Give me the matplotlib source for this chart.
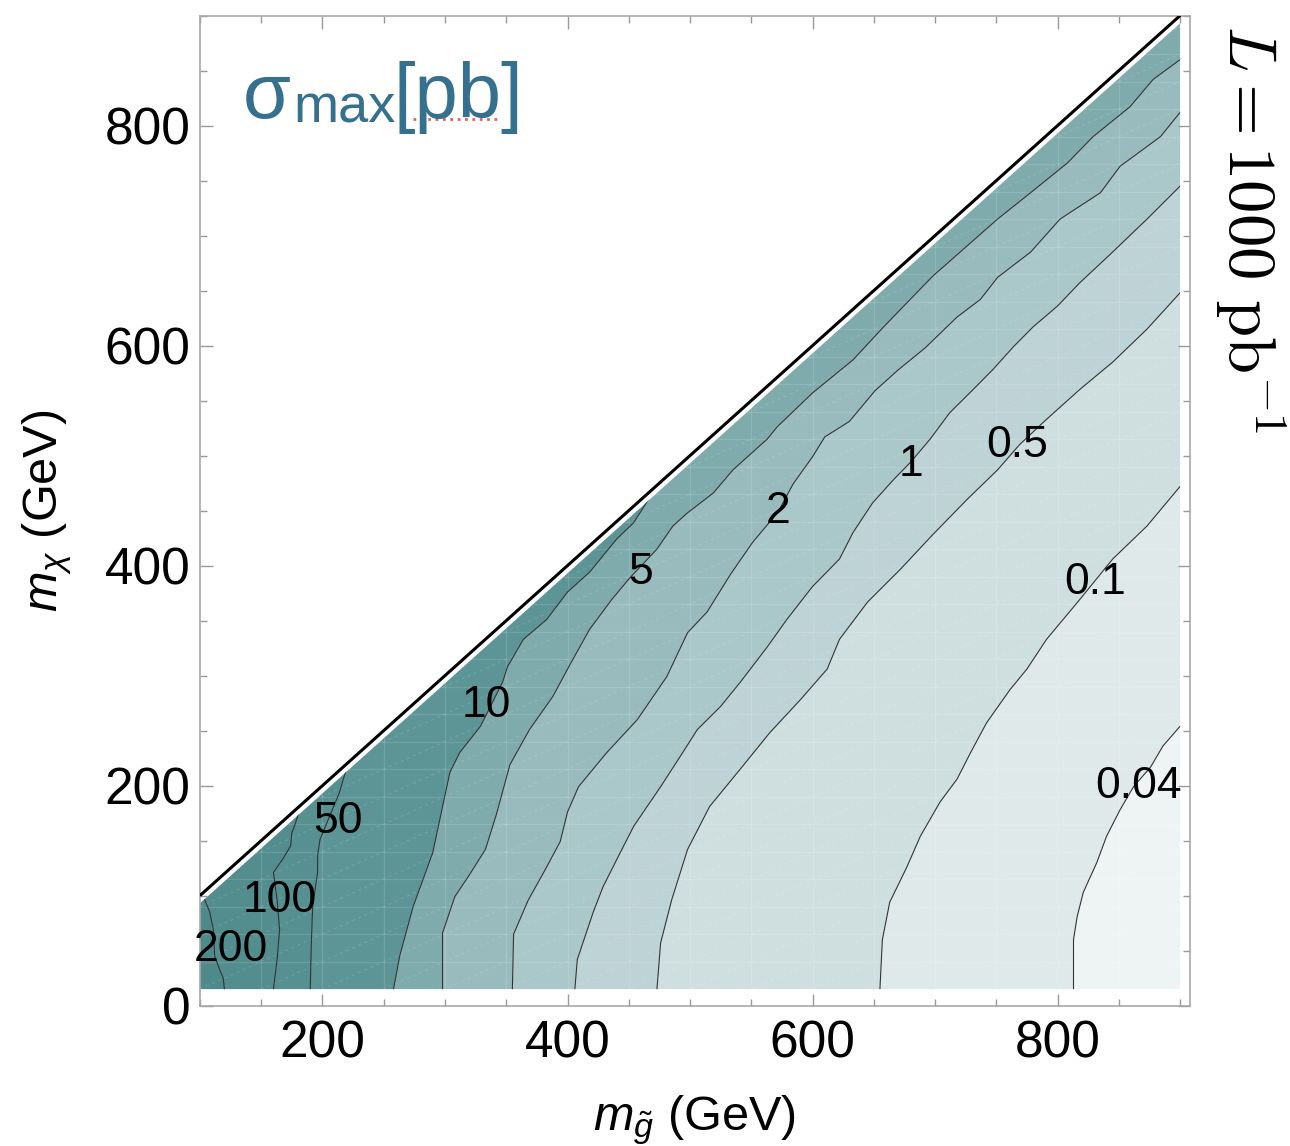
import numpy as np
import matplotlib.pyplot as plt
from matplotlib.patches import Polygon
from matplotlib.lines import Line2D

plt.rcParams['font.family'] = ['Liberation Sans', 'DejaVu Sans']
plt.rcParams['mathtext.fontset'] = 'custom'
plt.rcParams['mathtext.rm'] = 'Liberation Sans'
plt.rcParams['mathtext.it'] = 'Liberation Sans:italic'
plt.rcParams['mathtext.fallback'] = 'cm'

# contour levels of sigma_max [pb] (m_gluino, m_chi in GeV)
levels = ['200', '100', '50', '10', '5', '2', '1', '0.5', '0.1', '0.04']

c200_x = [120, 119, 116, 112, 111, 108, 104, 101]
c200_y = [15, 25, 33, 45, 69, 85, 96, 100]

c100_x = [160, 163, 165, 163, 160, 168, 174, 175, 178, 181]
c100_y = [15, 42, 69, 96, 121, 134, 145, 157, 166, 177]

c50_x = [190, 191, 192, 196, 196, 198, 214, 217, 220]
c50_y = [15, 60, 90, 121, 136, 151, 194, 206, 216]

c10_x = [258, 263, 274, 290, 298, 304, 312, 329, 347, 351, 364, 383, 400, 418, 440, 454, 470]
c10_y = [15, 45, 90, 139, 181, 212, 230, 254, 294, 308, 333, 351, 376, 394, 424, 439, 467]

c5_x = [298, 298, 308, 320, 333, 342, 353, 369, 388, 402, 418, 436, 451, 473, 486, 498,
        519, 535, 563, 571, 600, 633, 658, 698, 751, 778, 808, 829, 859, 878, 900]
c5_y = [15, 66, 99, 119, 142, 174, 219, 251, 281, 310, 342, 369, 389, 415, 436, 448,
        466, 487, 515, 526, 557, 587, 617, 663, 715, 739, 766, 790, 817, 842, 860]

c2_x = [355, 356, 368, 382, 394, 400, 409, 432, 457, 481, 498, 514, 533, 551, 572, 584,
        600, 610, 630, 651, 670, 692, 718, 737, 751, 778, 802, 835, 851, 884, 900]
c2_y = [15, 65, 96, 124, 149, 176, 199, 230, 260, 299, 339, 358, 392, 421, 449, 474,
        499, 517, 531, 559, 578, 598, 626, 642, 662, 685, 715, 739, 763, 790, 812]

c1_x = [406, 408, 421, 429, 443, 454, 476, 494, 506, 525, 541, 563, 579, 600, 622,
        633, 649, 666, 680, 696, 712, 731, 747, 764, 780, 800, 818, 843, 873, 900]
c1_y = [15, 42, 85, 108, 139, 163, 199, 230, 251, 272, 294, 326, 351, 381, 406,
        430, 457, 478, 494, 515, 539, 560, 578, 599, 617, 636, 657, 683, 715, 745]

c05_x = [473, 476, 485, 498, 516, 541, 565, 590, 612, 622, 645, 672, 698, 726, 751,
         769, 791, 818, 845, 873, 900]
c05_y = [15, 57, 96, 142, 181, 215, 248, 278, 306, 333, 367, 397, 428, 460, 487,
         510, 533, 560, 585, 615, 648]

c01_x = [655, 657, 663, 677, 688, 704, 718, 729, 742, 761, 775, 791, 818, 845, 873, 900]
c01_y = [15, 60, 94, 126, 154, 185, 206, 230, 257, 287, 306, 333, 369, 406, 436, 472]

c004_x = [813, 813, 816, 821, 832, 840, 851, 862, 876, 886, 900]
c004_y = [15, 60, 81, 103, 130, 154, 178, 199, 217, 236, 254]

contours = [(c200_x, c200_y), (c100_x, c100_y), (c50_x, c50_y), (c10_x, c10_y),
            (c5_x, c5_y), (c2_x, c2_y), (c1_x, c1_y), (c05_x, c05_y),
            (c01_x, c01_y), (c004_x, c004_y)]

# label placement (m_gluino, m_chi)
label_x = [125, 165, 213, 334, 460, 572, 680, 767, 831, 866]
label_y = [51, 96, 167, 273, 394, 449, 492, 509, 385, 199]

# band colours, from > 200 pb to < 0.04 pb
band_colors = ['#4f8a8b', '#538d8e', '#579091', '#5d9596', '#80abad', '#99bbbd',
               '#aac7c9', '#bdd3d6', '#cfdfe0', '#dfe9ea', '#eef4f4']

fig = plt.figure(figsize=(12.9, 11.46), dpi=100)
ax = fig.add_axes([0.155, 0.1225, 0.7674, 0.8639])
ax.set_xlim(100, 908)
ax.set_ylim(0, 900)

# shaded region below the diagonal
gap = 7
dom = Polygon([(100, 15), (900, 15), (900, 900 - gap), (100, 100 - gap)], closed=True,
              transform=ax.transData)


def ext(xs, ys):
    pts = [(xs[0], -200)] + list(zip(xs, ys))
    if xs[-1] >= 899:
        pts.append((2000, ys[-1]))
    else:
        pts.append((xs[-1], 2000))
    return pts


curves = [ext([0, 0], [0, 900])] + [ext(x, y) for x, y in contours] + \
         [ext([2000, 2000], [0, 900])]

for i in range(len(curves) - 1):
    pts = curves[i] + [(2000, 2000)] + curves[i + 1][::-1]
    p = Polygon(pts, closed=True, facecolor=band_colors[i], edgecolor=band_colors[i],
                lw=0.5, zorder=1)
    ax.add_patch(p)
    p.set_clip_path(dom)

# faint mesh seams as in the original rendering
for gx in range(150, 900, 50):
    ln, = ax.plot([gx, gx], [0, 900], color='white', lw=0.9, alpha=0.13, zorder=2)
    ln.set_clip_path(dom)
for gy in range(40, 900, 25):
    ln, = ax.plot([100, 900], [gy, gy], color='white', lw=0.9, alpha=0.13, zorder=2)
    ln.set_clip_path(dom)
for k in range(-20, 36):
    y0 = 15 + 25 * k
    ln, = ax.plot([100, 900], [y0, y0 + 400], color='white', lw=0.8, alpha=0.13,
                  ls=(0, (3, 3)), zorder=2)
    ln.set_clip_path(dom)

for x, y in contours:
    pts = np.array(ext(x, y))
    ln, = ax.plot(pts[:, 0], pts[:, 1], color='#333333', lw=0.8, zorder=3)
    ln.set_clip_path(dom)

for s, lx, ly in zip(levels, label_x, label_y):
    ax.text(lx, ly, s, fontsize=32, ha='center', va='center', zorder=4)

# kinematic boundary m_chi = m_gluino
ax.plot([100, 900], [100, 900], color='black', lw=2.2, zorder=5, solid_capstyle='butt')

ax.set_xticks([200, 400, 600, 800])
ax.set_xticks(np.arange(100, 901, 50), minor=True)
ax.set_yticks([0, 200, 400, 600, 800])
ax.set_yticks(np.arange(0, 901, 50), minor=True)
ax.tick_params(which='both', direction='in', top=True, right=True,
               color='#999999', width=1)
ax.tick_params(which='major', length=9, labelsize=37)
ax.tick_params(axis='x', which='major', pad=10)
ax.tick_params(axis='y', which='major', pad=7)
ax.tick_params(which='minor', length=5)
for sp in ax.spines.values():
    sp.set_color('#a8a8a8')
    sp.set_linewidth(1.2)

ax.set_xlabel(r'$m_{\tilde{g}}$ (GeV)', fontsize=35, labelpad=18)
ax.set_ylabel(r'$m_{\chi}$ (GeV)', fontsize=35, labelpad=22)

# title inside the frame
tcol = '#36708f'
fig.text(0.1884, 0.8970, 'σ', fontsize=56, color=tcol, ha='left', va='baseline')
fig.text(0.2271, 0.8927, 'max', fontsize=39, color=tcol, ha='left', va='baseline')
fig.text(0.3047, 0.8970, '[pb]', fontsize=56, color=tcol, ha='left', va='baseline')
fig.add_artist(Line2D([0.320, 0.3876], [0.8963, 0.8963], color='#e06060', lw=2,
                      linestyle=':', transform=fig.transFigure))

fig.text(0.969, 0.978, r'$L = 1000\ \mathrm{pb}^{-1}$', fontsize=48, rotation=-90,
         ha='center', va='top', math_fontfamily='cm')

plt.savefig('out.png', dpi=100)
